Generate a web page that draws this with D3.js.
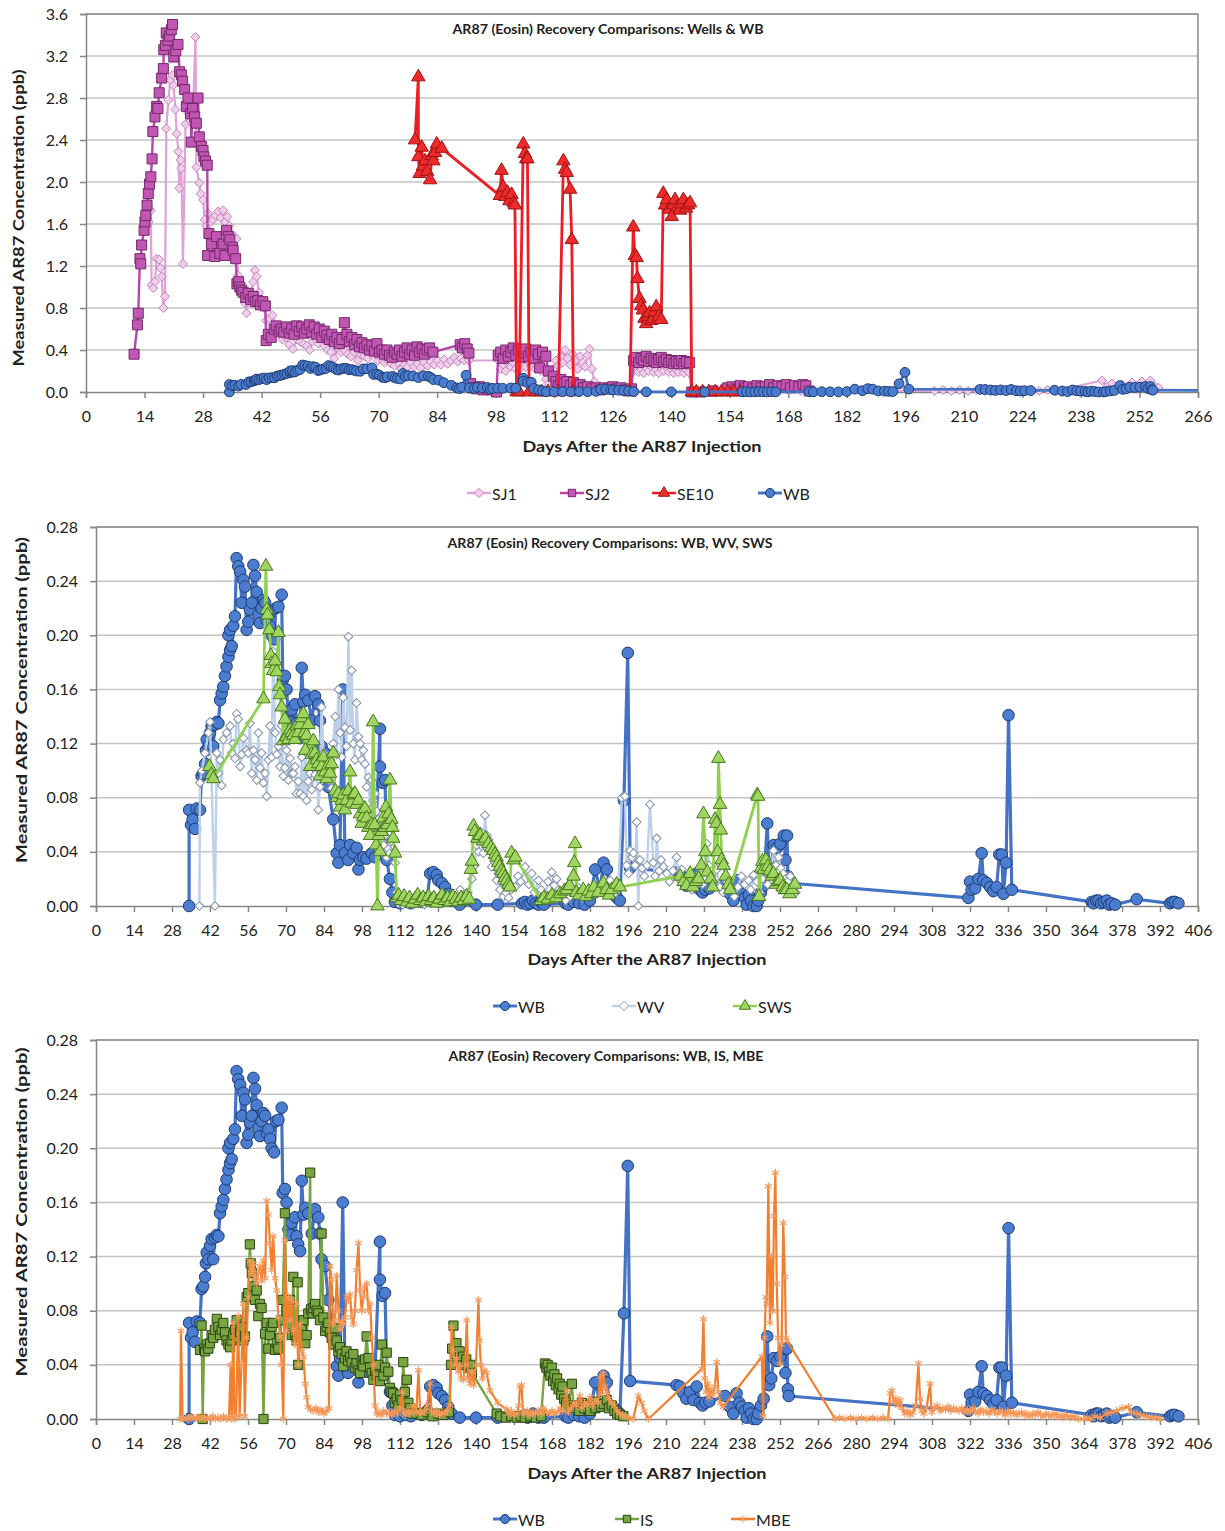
<!DOCTYPE html>
<html><head><meta charset="utf-8">
<script src="https://cdn.jsdelivr.net/npm/d3@7"></script>
<style>
body{margin:0;background:#fff}
text{font-family:Lato,'Open Sans',sans-serif;fill:#222}
</style>
</head><body>
<svg id="c" width="1225" height="1531"></svg>
<script>
// ---------------- DATA ----------------
const xTicksP1 = [0,14,28,42,56,70,84,98,112,126,140,154,168,182,196,210,224,238,252,266];
const xTicksP23 = [0,14,28,42,56,70,84,98,112,126,140,154,168,182,196,210,224,238,252,266,280,294,308,322,336,350,364,378,392,406];
const yTicksP1 = [0,0.4,0.8,1.2,1.6,2.0,2.4,2.8,3.2,3.6];
const yTicksP23 = [0,0.04,0.08,0.12,0.16,0.20,0.24,0.28];

const titles = [
  "AR87 (Eosin) Recovery Comparisons: Wells & WB",
  "AR87 (Eosin) Recovery Comparisons: WB, WV, SWS",
  "AR87 (Eosin) Recovery Comparisons: WB, IS, MBE"
];
const xTitle = "Days After the AR87 Injection";
const yTitle = "Measured AR87 Concentration (ppb)";

const SJ1 = [[15.0,1.62],[15.5,1.73],[15.7,1.02],[16.1,0.99],[16.5,1.05],[16.9,1.27],[17.5,1.26],[17.8,1.18],[18.1,1.10],[18.5,0.80],[18.9,0.91],[19.2,2.51],[19.7,2.78],[20.2,2.97],[20.7,3.02],[20.9,2.92],[21.4,2.69],[21.7,2.46],[22.1,2.29],[22.3,1.94],[22.6,2.21],[22.8,2.13],[23.2,1.22],[23.8,2.55],[24.4,2.66],[25.0,2.58],[25.6,2.70],[26.2,3.38],[26.4,2.14],[27.1,1.99],[27.4,1.89],[28.0,1.83],[28.4,1.64],[28.8,1.58],[29.2,1.70],[29.8,1.62],[30.4,1.64],[31.0,1.68],[31.6,1.72],[32.2,1.66],[32.8,1.73],[33.3,1.62],[33.8,1.67],[34.3,1.58],[34.8,1.51],[35.4,1.48],[36.0,1.46],[36.4,1.11],[36.9,1.02],[37.6,0.92],[38.0,0.85],[38.4,0.75],[39.0,0.88],[39.6,0.95],[40.0,1.05],[40.4,1.16],[40.8,1.10],[41.4,0.95],[42.0,0.88],[42.6,0.80],[43.1,0.68],[43.8,0.70],[44.6,0.73],[45.4,0.62],[46.2,0.55],[47.0,0.50],[47.8,0.52],[48.6,0.45],[49.5,0.41],[50.4,0.50],[51.2,0.48],[52.0,0.46],[52.8,0.44],[53.5,0.40],[54.2,0.48],[55.0,0.50],[55.6,0.46],[56.3,0.52],[57.0,0.44],[57.8,0.40],[58.6,0.38],[59.4,0.32],[60.2,0.42],[61.0,0.38],[61.8,0.40],[62.6,0.36],[63.4,0.34],[64.2,0.38],[65.0,0.30],[65.8,0.36],[66.6,0.34],[67.4,0.32],[68.2,0.36],[69.0,0.37],[69.8,0.30],[70.6,0.32],[71.4,0.28],[72.2,0.30],[73.0,0.27],[73.8,0.25],[74.6,0.28],[75.4,0.22],[76.2,0.26],[76.9,0.24],[77.7,0.28],[78.5,0.24],[79.3,0.27],[80.1,0.23],[80.9,0.28],[81.7,0.25],[82.5,0.29],[83.3,0.26],[84.1,0.30],[84.9,0.26],[85.7,0.31],[86.5,0.27],[87.3,0.30],[88.1,0.33],[88.9,0.29],[89.7,0.32],[90.5,0.30],[91.6,0.30],[98.6,0.30],[99.2,0.22],[99.8,0.26],[100.4,0.20],[101.0,0.27],[101.6,0.24],[102.2,0.28],[102.8,0.22],[103.4,0.26],[104.0,0.23],[104.6,0.29],[105.2,0.24],[105.8,0.30],[106.4,0.25],[107.0,0.28],[107.6,0.22],[108.2,0.26],[108.8,0.20],[109.4,0.24],[110.0,0.12],[110.6,0.08],[111.2,0.18],[111.8,0.22],[112.4,0.30],[113.0,0.25],[113.6,0.34],[114.0,0.28],[114.6,0.40],[115.2,0.32],[115.8,0.26],[116.4,0.36],[117.0,0.30],[117.6,0.22],[118.2,0.34],[118.8,0.28],[119.4,0.24],[120.0,0.35],[120.4,0.41],[121.0,0.22],[121.6,0.10],[122.5,0.04],[124,0.02],[126,0.01],[128,0.02],[130,0.02],[131.0,0.20],[131.6,0.24],[132.2,0.19],[132.8,0.22],[133.4,0.18],[134.0,0.23],[134.6,0.20],[135.2,0.24],[135.8,0.19],[136.4,0.22],[137.0,0.18],[137.6,0.23],[138.2,0.20],[138.8,0.24],[139.4,0.19],[140.0,0.22],[140.6,0.18],[141.2,0.21],[141.8,0.19],[142.4,0.23],[143.0,0.18],[143.6,0.21],[144.2,0.19],[144.8,0.02],[147,0.01],[150,0.02],[153,0.01],[156,0.02],[159,0.01],[162,0.02],[165,0.01],[168,0.02],[171,0.01],[174,0.01],[203,0.01],[205,0.02],[207,0.01],[209,0.02],[211,0.01],[213,0.02],[215,0.01],[224,0.01],[226,0.02],[228,0.01],[230,0.02],[232,0.01],[243.0,0.11],[244.2,0.05],[245.4,0.08],[246.6,0.04],[247.8,0.07],[249.0,0.05],[250.2,0.09],[251.4,0.06],[252.6,0.10],[253.6,0.07],[254.6,0.11],[255.6,0.06],[256.6,0.04]];

const SJ2 = [[11.5,0.36],[12.3,0.64],[12.5,0.75],[12.9,1.27],[13.1,1.22],[13.3,1.40],[13.9,1.54],[14.1,1.62],[14.3,1.68],[14.6,1.78],[14.9,1.89],[15.2,1.98],[15.5,2.05],[15.8,2.22],[16.0,2.48],[16.5,2.62],[16.9,2.72],[17.2,2.70],[17.5,2.85],[18.1,2.99],[18.5,3.08],[18.6,3.26],[19.0,3.30],[19.2,3.42],[19.6,3.35],[20.0,3.39],[20.4,3.45],[20.7,3.50],[21.0,3.19],[21.5,3.25],[22.0,3.31],[22.4,3.05],[22.8,3.02],[23.1,2.96],[23.6,2.88],[24.0,2.72],[24.4,2.80],[25.0,2.65],[25.2,2.38],[25.5,2.70],[26.0,2.62],[26.4,2.56],[26.8,2.80],[27.1,2.43],[27.6,2.34],[28.0,2.30],[28.2,2.24],[28.6,2.20],[29.0,2.16],[29.1,1.30],[29.4,1.51],[30.0,1.41],[30.8,1.29],[31.2,1.48],[32.0,1.32],[32.8,1.41],[33.2,1.30],[33.6,1.54],[34.0,1.48],[34.4,1.45],[35.0,1.38],[35.2,1.35],[35.8,1.27],[36.1,1.03],[36.5,1.05],[36.8,1.00],[37.2,0.97],[37.6,0.95],[38.2,0.90],[38.8,0.94],[39.4,0.88],[40.0,0.91],[40.5,0.86],[41.1,0.87],[41.7,0.83],[42.3,0.86],[42.9,0.82],[43.1,0.49],[43.6,0.55],[44.3,0.52],[45.0,0.60],[45.5,0.63],[46.2,0.58],[46.7,0.60],[47.3,0.57],[48.0,0.62],[48.6,0.56],[49.2,0.60],[49.8,0.55],[50.4,0.63],[51.0,0.58],[51.6,0.62],[52.2,0.56],[52.8,0.60],[53.4,0.64],[54.0,0.57],[54.6,0.62],[55.2,0.55],[55.8,0.60],[56.4,0.52],[57.0,0.58],[57.6,0.54],[58.2,0.50],[58.8,0.55],[59.4,0.48],[60.0,0.52],[60.6,0.46],[61.2,0.50],[61.8,0.66],[62.4,0.55],[63.0,0.48],[63.6,0.52],[64.2,0.45],[64.8,0.50],[65.4,0.43],[66.0,0.47],[66.6,0.42],[67.2,0.45],[67.8,0.40],[68.4,0.44],[69.0,0.39],[69.6,0.46],[70.2,0.38],[70.8,0.40],[71.4,0.36],[72.0,0.40],[72.6,0.35],[73.2,0.33],[73.8,0.38],[74.4,0.36],[75.0,0.40],[75.6,0.34],[76.2,0.38],[76.8,0.42],[77.4,0.36],[78.0,0.40],[78.6,0.35],[79.2,0.43],[79.8,0.38],[80.4,0.41],[81.0,0.36],[81.6,0.40],[82.2,0.42],[83.0,0.38],[89.5,0.45],[90.0,0.42],[90.6,0.46],[91.2,0.41],[91.6,0.37],[92.0,0.08],[92.6,0.04],[93.4,0.03],[94.2,0.05],[95.0,0.02],[96.0,0.03],[97.0,0.02],[98.2,0.0],[98.6,0.35],[99.2,0.38],[99.8,0.32],[100.4,0.40],[101.0,0.34],[101.6,0.38],[102.2,0.42],[102.8,0.35],[103.4,0.40],[104.0,0.33],[104.6,0.37],[105.2,0.41],[105.8,0.34],[106.4,0.38],[107.0,0.32],[107.6,0.40],[108.2,0.36],[108.5,0.23],[109.2,0.38],[110.0,0.34],[110.6,0.20],[111.8,0.15],[112.4,0.10],[113.0,0.06],[113.6,0.12],[114.2,0.08],[115.0,0.10],[115.8,0.06],[116.6,0.09],[117.4,0.05],[118.2,0.07],[119.0,0.04],[120.0,0.05],[121.0,0.03],[122.0,0.04],[123.0,0.02],[124.0,0.04],[125.0,0.03],[126.0,0.05],[127.0,0.03],[128.0,0.04],[129.0,0.02],[130.5,0.03],[131.0,0.30],[131.6,0.33],[132.2,0.28],[132.8,0.32],[133.4,0.30],[134.0,0.34],[134.6,0.29],[135.2,0.32],[135.8,0.30],[136.4,0.28],[137.0,0.31],[137.6,0.33],[138.2,0.29],[138.8,0.31],[139.4,0.28],[140.0,0.30],[140.6,0.27],[141.2,0.29],[141.8,0.27],[142.4,0.30],[143.0,0.27],[143.6,0.29],[144.4,0.28],[144.9,0.0],[147,0.0],[150,0.01],[153.5,0.04],[154.5,0.05],[155.5,0.03],[156.5,0.06],[157.5,0.04],[158.5,0.05],[159.5,0.03],[160.5,0.06],[161.5,0.04],[162.5,0.05],[163.5,0.07],[164.5,0.04],[165.5,0.06],[166.5,0.05],[167.5,0.07],[168.5,0.04],[169.5,0.06],[170.5,0.05],[171.5,0.07],[172.2,0.06],[173,0.01]];

const SE10 = [[78.7,2.40],[79.5,3.00],[79.5,2.24],[79.8,2.08],[80.3,2.33],[80.6,2.15],[81.1,2.20],[81.6,2.10],[82.3,2.02],[82.7,2.25],[83.1,2.20],[83.5,2.28],[83.9,2.36],[85.1,2.32],[99.0,1.87],[99.4,2.11],[99.8,1.95],[100.3,1.86],[100.8,1.90],[101.3,1.82],[101.8,1.88],[102.3,1.80],[102.6,1.78],[103.0,0.0],[103.6,0.0],[104.6,2.36],[105.0,2.27],[105.3,2.22],[105.6,2.22],[106.0,0.0],[107.5,0.0],[109,0.0],[110.5,0.0],[113.0,0.0],[114.2,2.20],[114.6,2.12],[115.0,2.09],[115.8,1.93],[116.2,1.45],[116.6,0.0],[130.1,0.0],[130.9,1.57],[131.3,1.30],[131.7,1.28],[131.9,1.08],[132.4,0.89],[132.8,0.82],[133.2,0.78],[133.6,0.70],[134.0,0.65],[134.4,0.72],[134.8,0.75],[135.2,0.68],[135.6,0.70],[136.0,0.76],[136.4,0.81],[137.0,0.72],[137.6,0.69],[138.1,1.89],[138.5,1.78],[138.9,1.83],[139.5,1.74],[140.1,1.67],[140.5,1.78],[140.9,1.83],[141.5,1.76],[142.1,1.73],[142.5,1.79],[142.9,1.83],[143.5,1.75],[144.0,1.78],[144.5,1.80],[144.9,0.0],[146,0.0],[147.5,0.0],[149,0.0],[150.5,0.0],[152,0.0],[153.5,0.0],[155,0.0],[156.5,0.0]];

const WB = [[34.3,0],[34.3,0.071],[35.0,0.060],[35.6,0.064],[36.5,0.057],[37.1,0.072],[38.3,0.071],[38.9,0.096],[39.5,0.098],[40.2,0.105],[40.5,0.115],[40.8,0.123],[41.4,0.118],[42.0,0.128],[42.6,0.133],[43.2,0.118],[43.8,0.134],[44.5,0.136],[45.1,0.135],[45.7,0.152],[46.3,0.157],[46.9,0.162],[47.5,0.170],[48.1,0.177],[48.8,0.184],[48.8,0.200],[49.4,0.189],[49.4,0.204],[50.0,0.192],[50.6,0.207],[51.2,0.214],[51.8,0.257],[52.4,0.251],[53.1,0.247],[53.7,0.224],[54.3,0.241],[54.9,0.236],[55.5,0.204],[56.1,0.210],[56.7,0.219],[57.4,0.224],[58.0,0.252],[58.6,0.244],[59.2,0.232],[59.8,0.215],[60.4,0.209],[61.0,0.220],[61.7,0.226],[62.3,0.224],[62.9,0.211],[63.5,0.214],[64.1,0.207],[64.7,0.200],[65.6,0.197],[66.3,0.220],[67.2,0.221],[68.4,0.230],[68.8,0.167],[69.6,0.170],[70.2,0.160],[70.9,0.140],[71.5,0.136],[72.1,0.145],[73.3,0.149],[73.9,0.135],[74.5,0.129],[75.2,0.124],[75.8,0.176],[76.4,0.151],[77.1,0.156],[78.2,0.152],[79.5,0.137],[80.7,0.155],[81.9,0.149],[82.5,0.137],[83.1,0.118],[84.4,0.113],[85.6,0.088],[87.4,0.064],[88.7,0.039],[89.3,0.032],[89.9,0.045],[90.9,0.160],[91.7,0.039],[92.9,0.034],[93.6,0.045],[94.8,0.039],[96.0,0.043],[96.7,0.027],[97.3,0.034],[98.5,0.036],[99.7,0.035],[101.6,0.039],[102.8,0.036],[104.6,0.131],[104.6,0.103],[105.6,0.091],[106.5,0.093],[107.1,0.034],[108.3,0.020],[109.2,0.010],[110.1,0.003],[112,0.002],[114,0.003],[116,0.002],[118,0.004],[120,0.003],[122,0.006],[123.1,0.024],[124.3,0.025],[125.5,0.023],[126.1,0.019],[127.4,0.017],[128.6,0.014],[129.8,0.009],[131.0,0.004],[134,0.001],[140,0.001],[148,0.001],[157,0.002],[158,0.003],[159,0.001],[160,0.002],[161,0.004],[162,0.002],[163,0.001],[164,0.003],[165,0.001],[173,0.002],[174,0.001],[176,0.003],[178,0.002],[180,0.001],[182,0.004],[183.9,0.027],[185.7,0.012],[187.0,0.032],[188.2,0.027],[189.5,0.010],[191,0.008],[192,0.006],[193,0.004],[194.5,0.078],[195.9,0.187],[196.8,0.028],[213.9,0.025],[215.1,0.024],[216.4,0.019],[217.5,0.015],[218.8,0.020],[220.1,0.014],[221.3,0.024],[222.5,0.012],[223.5,0.010],[224.5,0.012],[226,0.013],[231.7,0.017],[233.5,0.009],[234.8,0.004],[236.0,0.019],[237.0,0.012],[237.9,0.009],[239.0,0.006],[239.7,0.001],[240.5,0.008],[241.3,0.004],[242.2,0.0],[243.4,0.0],[244.0,0.004],[245,0.010],[246,0.015],[247.3,0.061],[248.0,0.025],[248.8,0.030],[249.7,0.045],[250.9,0.043],[252.1,0.046],[253.4,0.052],[254.0,0.034],[254.6,0.052],[254.9,0.022],[255.2,0.017],[321.4,0.006],[322.0,0.018],[322.6,0.012],[323.9,0.013],[325.1,0.020],[326.3,0.039],[326.9,0.019],[328.2,0.017],[329.4,0.014],[330.6,0.011],[331.8,0.014],[332.8,0.038],[333.7,0.038],[334.3,0.009],[335.3,0.032],[336.2,0.141],[337.4,0.012],[366.8,0.003],[367.5,0.002],[368.5,0.004],[369.3,0.004],[370.3,0.002],[371.3,0.003],[372.4,0.004],[373.3,0.001],[374.2,0.002],[375.5,0.001],[383.4,0.005],[395.7,0.002],[396.6,0.003],[397.5,0.003],[398.8,0.002]];

const WV = [[38.1,0],[38.3,0.091],[39.0,0.100],[40.2,0.113],[41.4,0.128],[42.0,0.136],[43.8,0],[44.5,0.113],[45.1,0.098],[45.7,0.108],[46.3,0.089],[46.9,0.123],[48.1,0.128],[49.4,0.133],[50.0,0.113],[50.6,0.120],[51.2,0.109],[51.8,0.142],[52.4,0.138],[53.1,0.103],[53.7,0.112],[54.3,0.124],[55.5,0.115],[56.1,0.113],[56.7,0.135],[57.4,0.098],[58.0,0.115],[58.6,0.108],[59.2,0.093],[59.8,0.128],[60.4,0.102],[61.0,0.113],[61.7,0.091],[62.3,0.098],[62.9,0.081],[63.5,0.108],[64.1,0.133],[64.7,0.110],[65.3,0.188],[66.0,0.128],[66.6,0.112],[67.2,0.118],[67.8,0.103],[68.4,0.133],[69.0,0.096],[69.6,0.102],[70.2,0.115],[70.9,0.093],[71.5,0.109],[72.1,0.098],[72.7,0.098],[73.3,0.103],[73.9,0.083],[74.5,0.092],[75.2,0.083],[75.8,0.110],[76.4,0.081],[77.1,0.115],[77.6,0.078],[78.2,0.092],[78.9,0.098],[79.5,0.086],[80.7,0.097],[81.3,0.110],[81.9,0.071],[82.5,0.088],[83.1,0.147],[83.8,0.113],[84.4,0.100],[85.0,0.095],[85.6,0.093],[86.2,0.100],[86.8,0.087],[87.4,0.120],[88.1,0.140],[88.7,0.112],[89.3,0.160],[89.9,0.128],[90.5,0.110],[91.1,0.154],[91.7,0.132],[92.3,0.118],[93.0,0.199],[93.6,0.130],[94.2,0.174],[94.8,0.120],[95.4,0.108],[96.0,0.150],[96.7,0.125],[97.3,0.120],[97.9,0.108],[98.5,0.115],[99.1,0.105],[99.7,0.088],[100.4,0.095],[101.0,0.071],[101.6,0.093],[102.2,0.078],[102.8,0.083],[103.4,0.070],[104.0,0.064],[104.6,0.058],[105.3,0.049],[106.0,0.045],[106.5,0.052],[107.1,0.036],[107.7,0.042],[108.3,0.039],[108.9,0.048],[109.5,0.059],[110.2,0.032],[110.8,0.010],[111.4,0.002],[113,0.001],[115,0.002],[117,0.001],[119,0.002],[121,0.001],[124,0.003],[127,0.002],[130,0.004],[132,0.006],[134.2,0.012],[135.5,0.008],[137,0.010],[138.5,0.020],[139.5,0.030],[140.2,0.045],[141.0,0.040],[141.5,0.055],[142.1,0.054],[142.7,0.039],[143.3,0.067],[144.0,0.052],[144.6,0.049],[145.2,0.044],[145.8,0.029],[146.4,0.038],[147.0,0.032],[147.6,0.019],[148.2,0.024],[148.8,0.012],[149.5,0.018],[150.1,0.007],[151,0.010],[152,0.006],[153,0.012],[154.4,0.014],[155.5,0.022],[156.5,0.018],[158.1,0.029],[159.5,0.016],[160.5,0.024],[161.5,0.010],[163.0,0.019],[164,0.012],[165.5,0.008],[166.5,0.018],[167.9,0.025],[168.8,0.015],[169.7,0.020],[170.5,0.012],[171.5,0.010],[173,0.004],[174.7,0.007],[176,0.010],[177.5,0.014],[179,0.006],[181,0.008],[183,0.012],[185,0.010],[187,0.014],[189.4,0.019],[190.5,0.012],[191.5,0.010],[192.5,0.016],[193.7,0.080],[194.9,0.081],[195.5,0.030],[196.2,0.024],[196.8,0.041],[197.5,0.036],[198.0,0.039],[198.6,0.030],[199.2,0.062],[199.8,0],[200.4,0.034],[201.2,0.028],[202,0.022],[203,0.030],[204.1,0.075],[205.3,0.032],[206,0.022],[206.6,0.050],[207.5,0.026],[208.2,0.034],[209.1,0.029],[210.3,0.024],[211.3,0.018],[212.5,0.026],[213.9,0.036],[214.8,0.020],[215.8,0.027],[217,0.016],[218,0.021],[219.5,0.012],[220.7,0.014],[221.6,0.020],[222.5,0.024],[223.5,0.016],[225.0,0.046],[225.8,0.030],[226.8,0.022],[227.5,0.018],[228.7,0.027],[229.8,0.014],[231,0.010],[232.5,0.018],[233.5,0.012],[235.2,0.007],[236.5,0.014],[237.8,0.022],[239,0.016],[240.4,0.019],[241.2,0.012],[242.3,0.023],[243.5,0.018],[244.5,0.010],[245.5,0.020],[246.5,0.028],[247.5,0.016],[248.5,0.022],[249.6,0.041],[250.5,0.030],[251.5,0.036],[252.3,0.028],[253.2,0.024],[254.0,0.020],[254.8,0.018],[255.8,0.022],[256.9,0.014],[257.8,0.010]];

const SWS = [[41.8,0.103],[42.5,0.097],[43.2,0.094],[61.7,0.153],[62.6,0.251],[62.9,0.219],[63.2,0.215],[63.9,0.204],[64.4,0.185],[64.7,0.179],[65.3,0.174],[66.0,0.181],[66.6,0.173],[67.2,0.202],[67.5,0.162],[67.8,0.156],[68.4,0.147],[69.0,0.122],[69.6,0.138],[70.2,0.125],[70.9,0.123],[71.5,0.130],[72.1,0.128],[72.7,0.126],[73.3,0.123],[73.9,0.133],[74.5,0.128],[75.2,0.134],[75.8,0.139],[76.4,0.142],[76.8,0.128],[77.1,0.115],[77.6,0.126],[78.2,0.134],[78.9,0.103],[79.5,0.112],[80.1,0.122],[80.7,0.113],[81.3,0.108],[81.9,0.105],[82.5,0.096],[83.1,0.103],[83.8,0.110],[84.4,0.099],[85.0,0.094],[85.6,0.104],[86.2,0.098],[86.8,0.105],[87.4,0.113],[88.1,0.085],[88.7,0.080],[89.3,0.083],[89.9,0.073],[90.5,0.078],[91.1,0.082],[91.7,0.071],[92.3,0.078],[92.9,0.085],[93.6,0.099],[94.2,0.076],[94.8,0.082],[95.4,0.083],[96.0,0.075],[96.7,0.078],[97.3,0.068],[97.9,0.061],[98.5,0.066],[99.1,0.072],[99.7,0.065],[100.4,0.058],[101.0,0.052],[101.6,0.060],[102.1,0.136],[102.7,0.060],[103.2,0.045],[103.7,0],[104.2,0.052],[104.6,0.040],[105.2,0.055],[105.8,0.065],[106.3,0.058],[106.8,0.073],[107.4,0.060],[107.8,0.068],[108.3,0.093],[108.8,0.064],[109.2,0.058],[109.5,0.050],[110.2,0.039],[110.8,0.006],[111.5,0.008],[112.5,0.004],[113.5,0.007],[114.5,0.003],[115.5,0.006],[116.5,0.002],[117.5,0.005],[118.5,0.008],[119.5,0.004],[120.5,0.006],[121.5,0.003],[122.5,0.007],[123.5,0.004],[124.5,0.006],[125.5,0.002],[126.5,0.005],[127.5,0.008],[128.5,0.004],[129.5,0.006],[130.5,0.003],[131.5,0.007],[132.5,0.005],[133.5,0.003],[134.5,0.006],[135.5,0.004],[136.5,0.007],[137.5,0.005],[138.1,0.027],[138.5,0.033],[139.1,0.059],[139.6,0.055],[140.5,0.050],[141.5,0.052],[142.5,0.048],[143.5,0.050],[144.6,0.046],[145.5,0.043],[146.4,0.041],[147.0,0.038],[147.6,0.036],[148.2,0.032],[148.8,0.029],[149.5,0.026],[150.1,0.024],[150.7,0.021],[151.3,0.019],[152.0,0.016],[152.5,0.014],[153.1,0.039],[153.8,0.034],[154.5,0.036],[164.0,0.004],[165,0.006],[166.5,0.005],[168,0.008],[169.5,0.006],[171,0.009],[172.5,0.011],[173.4,0.012],[174.5,0.015],[175.9,0.022],[176.2,0.032],[176.5,0.046],[177,0.010],[178,0.008],[179.5,0.012],[180.5,0.007],[181.5,0.011],[182.5,0.009],[183.5,0.014],[185,0.010],[186.9,0.017],[188,0.012],[189,0.008],[190,0.012],[191.8,0.016],[193,0.014],[215.2,0.022],[216.5,0.018],[217.5,0.015],[218.9,0.024],[220,0.014],[221,0.018],[222,0.020],[223.0,0.030],[223.8,0.068],[224.5,0.040],[225.2,0.025],[226.5,0.020],[227.2,0.014],[228.1,0.064],[228.6,0.061],[229.0,0.040],[229.3,0.109],[229.9,0.075],[230.2,0.056],[230.5,0.034],[231.2,0.030],[232,0.022],[233.0,0.016],[233.6,0.012],[243.6,0.082],[243.9,0.081],[244.3,0.007],[245.0,0.028],[245.5,0.033],[246.0,0.027],[246.8,0.034],[247.5,0.029],[248.2,0.026],[249.0,0.022],[249.6,0.024],[250.5,0.016],[251.3,0.018],[252.1,0.019],[253.0,0.014],[253.8,0.012],[254.5,0.012],[255.5,0.009],[256.5,0.012],[257.5,0.016]];

const IS = [[38.3,0.051],[38.9,0.069],[39.3,0],[39.8,0.052],[40.2,0.050],[40.8,0.055],[41.4,0.052],[42.0,0.056],[42.6,0.062],[43.2,0.060],[43.8,0.066],[44.5,0.074],[45.1,0.068],[45.7,0.062],[46.3,0.066],[46.9,0.071],[47.5,0.064],[48.1,0.058],[48.8,0.055],[49.4,0.053],[50.0,0.058],[50.6,0.062],[51.2,0.066],[51.8,0.073],[52.4,0.060],[53.1,0.064],[53.7,0.068],[54.3,0.058],[54.9,0.061],[55.5,0.090],[56.1,0.093],[56.7,0.129],[57.0,0.115],[57.4,0.108],[58.0,0.098],[58.6,0.088],[59.2,0.095],[59.8,0.076],[60.4,0.085],[61.0,0.082],[61.7,0],[62.3,0.063],[62.9,0.071],[63.5,0.052],[64.1,0.062],[64.7,0.068],[65.3,0.071],[66.0,0.051],[66.6,0.056],[67.2,0.052],[67.8,0.060],[68.4,0.073],[68.8,0.088],[69.6,0.152],[70.2,0.080],[70.9,0.070],[71.5,0.088],[72.1,0.062],[72.7,0.105],[73.3,0.062],[73.9,0.058],[74.3,0.101],[74.5,0.040],[75.2,0.061],[75.8,0.066],[76.4,0.073],[77.1,0.056],[77.6,0.062],[78.2,0.078],[78.9,0.182],[79.2,0.081],[79.8,0.078],[80.1,0.082],[80.7,0.085],[81.3,0.080],[81.9,0.078],[82.5,0.073],[83.1,0.137],[83.8,0.075],[84.4,0.065],[85.0,0.068],[85.6,0.071],[86.2,0.064],[86.8,0.060],[87.4,0.055],[88.1,0.067],[88.7,0.058],[89.3,0.050],[89.9,0.053],[90.5,0.048],[91.1,0.039],[91.7,0.045],[92.3,0.050],[92.9,0.043],[93.6,0.046],[94.2,0.042],[94.8,0.048],[95.4,0.038],[96.0,0.041],[96.7,0.036],[97.3,0.034],[97.9,0.040],[98.5,0.039],[99.1,0.044],[99.7,0.061],[100.4,0.045],[101.0,0.038],[101.6,0.034],[102.2,0.029],[102.8,0.036],[103.4,0.032],[104.0,0.040],[104.6,0.028],[105.3,0.055],[105.9,0.032],[106.5,0.038],[107.1,0.049],[107.7,0.035],[108.3,0.023],[108.9,0.020],[109.5,0.019],[110.1,0.012],[110.8,0.015],[111.4,0.010],[112.0,0.018],[112.6,0.014],[113.2,0.042],[113.8,0.020],[114.5,0.029],[115.1,0.012],[115.7,0.008],[116.3,0.004],[118,0.004],[120,0.003],[122,0.005],[124,0.002],[126,0.004],[128,0.003],[130,0.005],[130.8,0.040],[131.2,0.052],[131.7,0.069],[132.2,0.048],[132.8,0.056],[133.4,0.044],[134.0,0.050],[134.6,0.042],[135.2,0.046],[135.8,0.040],[136.4,0.044],[137.0,0.038],[137.9,0.040],[138.5,0.034],[147.6,0.004],[149,0.002],[151,0.001],[153,0.002],[155,0.001],[156.5,0.002],[158,0.001],[160,0.002],[162,0.001],[164,0.002],[165.4,0.041],[165.9,0.038],[166.4,0.040],[166.9,0.035],[167.4,0.032],[167.9,0.038],[168.4,0.028],[168.9,0.033],[169.4,0.025],[169.9,0.030],[170.4,0.022],[170.9,0.026],[171.4,0.018],[171.9,0.024],[172.5,0.015],[173.2,0.012],[174,0.010],[175.3,0.026],[176,0.008],[177,0.010],[178,0.006],[179,0.012],[180,0.008],[181,0.010],[182,0.006],[183,0.012],[184,0.008],[185,0.013],[186,0.009],[187,0.011],[188.2,0.014],[189,0.008],[190,0.010],[191,0.006],[192,0.004],[193,0.003],[194.3,0.002]];

const MBE = [[31.0,0],[31.3,0.065],[31.9,0],[33,0.001],[34,0],[35,0.002],[36,0],[37,0.001],[38,0],[39,0.002],[40,0],[41,0.001],[42,0],[43,0.002],[44,0],[45,0.001],[46,0],[47,0.002],[48,0],[49,0.001],[49.6,0.040],[50.0,0],[50.6,0.071],[51.0,0],[51.6,0.002],[52.4,0.076],[52.9,0.002],[53.6,0.040],[54.3,0.085],[54.8,0.002],[55.5,0.060],[56.1,0.090],[56.7,0.117],[57.2,0.108],[57.6,0.112],[58.0,0.115],[58.6,0.105],[59.2,0.100],[59.8,0.108],[60.4,0.113],[61.0,0.102],[61.7,0.117],[62.3,0.104],[62.9,0.161],[63.5,0.151],[64.1,0.130],[64.7,0.110],[65.3,0.135],[66.0,0.104],[66.6,0.095],[67.2,0.075],[67.8,0.061],[68.4,0.040],[69.0,0],[69.6,0.132],[70.2,0.065],[70.9,0.090],[71.5,0.073],[72.1,0.088],[72.7,0.066],[73.3,0.055],[73.9,0.085],[74.5,0.040],[75.2,0.070],[75.8,0.050],[76.4,0.046],[77.1,0.026],[77.6,0.016],[78.2,0.009],[79,0.007],[80,0.006],[81,0.008],[82,0.005],[83,0.007],[84,0.004],[85,0.006],[85.8,0.008],[86.2,0.113],[86.8,0.103],[87.4,0.070],[88.1,0.073],[88.7,0.106],[89.3,0.080],[89.9,0.066],[90.5,0.072],[91.1,0.070],[91.7,0.075],[92.4,0.090],[93.0,0.088],[93.6,0.092],[94.2,0.075],[94.8,0.070],[95.4,0.080],[96.0,0.110],[96.7,0.130],[97.3,0.095],[97.9,0.080],[98.5,0.090],[99.1,0.098],[99.7,0.100],[100.4,0.080],[101.0,0.085],[101.6,0.060],[102.2,0.040],[102.8,0.010],[103.4,0.004],[104,0.005],[105,0.003],[106,0.006],[107,0.004],[108,0.005],[109,0.003],[110,0.006],[111,0.004],[112,0.008],[112.8,0.020],[113.3,0.005],[114,0.003],[115,0.006],[116,0.004],[117,0.010],[118.0,0.005],[118.8,0.036],[119.4,0.005],[120,0.004],[121,0.006],[122,0.010],[123.1,0.026],[123.6,0.006],[124.5,0.004],[125.5,0.006],[126.5,0.003],[127.5,0.005],[128.5,0.004],[129.5,0.006],[130.4,0.010],[131.0,0.068],[131.6,0.051],[132.2,0.040],[132.8,0.045],[133.4,0.035],[134.0,0.040],[134.6,0.030],[135.3,0.029],[136.0,0.040],[136.6,0.073],[137.2,0.030],[137.9,0.026],[138.5,0.035],[139.2,0.025],[140.0,0.040],[140.9,0.088],[141.3,0.058],[141.8,0.040],[142.4,0.030],[143.0,0.036],[143.9,0.034],[145.2,0.021],[148.0,0.012],[151.3,0.007],[152,0.004],[153,0.006],[154,0.003],[155.0,0.004],[155.8,0.010],[156.2,0.024],[156.8,0.025],[157.3,0.005],[158,0.004],[159,0.006],[160,0.003],[161,0.005],[162,0.004],[163,0.006],[164,0.004],[164.8,0.008],[166,0.005],[167,0.004],[168,0.006],[169,0.004],[170,0.005],[171,0.008],[172,0.006],[173.4,0.021],[174,0.005],[175,0.008],[176,0.012],[177,0.010],[178.3,0.017],[179,0.008],[180,0.012],[181,0.010],[182,0.016],[183,0.010],[184,0.014],[185.0,0.012],[185.7,0.031],[186.2,0.018],[186.9,0.034],[187.5,0.024],[188.2,0.020],[189,0.015],[190,0.012],[191,0.010],[192,0.006],[193,0.004],[194,0.003],[195,0.002],[196,0.001],[197.9,0],[199.8,0.017],[201.0,0.012],[202,0.006],[203.5,0],[223.2,0.037],[223.8,0.074],[224.3,0.030],[224.8,0.020],[225.3,0.026],[225.8,0.016],[226.5,0.022],[227.2,0.018],[228.0,0.024],[228.7,0.042],[229.3,0.020],[230.0,0.012],[231.1,0.009],[245.3,0.046],[245.8,0.002],[246.3,0.060],[246.8,0.090],[247.1,0.085],[247.7,0.172],[248.3,0.071],[248.8,0.120],[249.3,0.080],[249.8,0.150],[250.3,0.182],[250.8,0.100],[251.3,0.060],[252.0,0.041],[252.6,0.055],[253.2,0.145],[253.8,0.105],[254.2,0.060],[254.6,0.058],[272.3,0],[274,0.001],[276,0],[278,0.001],[280,0],[282,0.001],[284,0],[286,0.001],[288,0],[290,0.001],[291.8,0],[292.6,0.019],[293.2,0.021],[294,0.012],[294.7,0.015],[295.5,0.010],[296.2,0.014],[297,0.008],[298,0.004],[299,0.006],[300,0.003],[301,0.005],[302,0.010],[303.0,0.041],[303.6,0.015],[304.2,0.006],[305,0.004],[306,0.008],[307.3,0.026],[307.9,0.005],[309,0.008],[310,0.010],[311,0.006],[312,0.008],[313,0.007],[314,0.009],[315,0.006],[316,0.008],[317,0.007],[318,0.006],[319,0.008],[320,0.005],[321,0.007],[322,0.005],[323,0.008],[324,0.006],[325,0.004],[326,0.007],[327,0.005],[328,0.006],[329,0.004],[330,0.007],[331,0.005],[332,0.004],[333,0.006],[334,0.005],[335,0.003],[336,0.006],[337,0.004],[338,0.005],[339,0.003],[340,0.004],[341,0.005],[342,0.003],[343,0.004],[344,0.002],[345,0.004],[346,0.003],[347,0.005],[348,0.003],[349,0.002],[350,0.004],[351,0.003],[352,0.002],[353,0.004],[354,0.002],[355,0.003],[356,0.001],[357,0.003],[358,0.002],[359,0.001],[360,0.002],[361,0.001],[362,0],[363.8,0],[365,0.001],[366.5,0],[368,0.002],[370,0.001],[372.4,0.004],[374,0.005],[376,0.006],[378,0.008],[380.4,0.009],[381.5,0.005],[383.5,0.004],[385,0.003],[387,0.002],[389,0.001],[390.5,0.001],[392.0,0]];

// ---------------- RENDERING ----------------
const diamondSym = {draw(ctx,size){const r=Math.sqrt(size)/2*1.25;ctx.moveTo(0,-r);ctx.lineTo(r,0);ctx.lineTo(0,r);ctx.lineTo(-r,0);ctx.closePath();}};
const asteriskSym = {draw(ctx,size){const r=Math.sqrt(size)/2;const a=r*0.866;ctx.moveTo(0,-r);ctx.lineTo(0,r);ctx.moveTo(-a,-r/2);ctx.lineTo(a,r/2);ctx.moveTo(-a,r/2);ctx.lineTo(a,-r/2);}};

const STY = {
  SJ1:{line:'#dea2d8',lw:2.2,sym:diamondSym,size:52,fill:'#f0cdeb',stroke:'#c283bb',sw:1},
  SJ2:{line:'#b646aa',lw:2.4,sym:d3.symbolSquare,size:100,fill:'#c256b4',stroke:'#742868',sw:1},
  SE10:{line:'#ee1c24',lw:2.8,sym:d3.symbolTriangle,size:78,fill:'#ee2a2a',stroke:'#a01414',sw:1},
  WB:{line:'#4472c4',lw:3.2,sym:d3.symbolCircle,size:100,fill:'#4a7dd0',stroke:'#1f3b72',sw:1},
  WV:{line:'#bdd0e9',lw:2.4,sym:diamondSym,size:48,fill:'#ffffff',stroke:'#8a97ad',sw:1.1},
  SWS:{line:'#8fd14f',lw:2.8,sym:d3.symbolTriangle,size:80,fill:'#9fd65f',stroke:'#48761f',sw:1},
  IS:{line:'#77a340',lw:2.4,sym:d3.symbolSquare,size:85,fill:'#78a442',stroke:'#2b4612',sw:1},
  MBE:{line:'#f07f2e',lw:2.2,sym:asteriskSym,size:60,fill:'none',stroke:'#f49a5c',sw:1.2}
};

const panels = [
  {title:titles[0], tx:608, ty:29, tlen:311, tsize:12.5,
   left:86,right:1198,top:14,bottom:392, xMax:266, yMax:3.6, xTicks:xTicksP1, yTicks:yTicksP1, yFmt:d3.format('.1f'),
   xtY:445, ytX:18, ytY:218, ytLen:297, ytSize:15,
   series:[['SJ1',SJ1],['SJ2',SJ2],['SE10',SE10],['WB',WB]], wbSize:75, wbLw:2.8,
   legY:493, leg:[['SJ1',467],['SJ2',560],['SE10',652],['WB',758]]},
  {title:titles[1], tx:610, ty:543, tlen:325, tsize:12.5,
   left:96,right:1198,top:527,bottom:906, xMax:406, yMax:0.28, xTicks:xTicksP23, yTicks:yTicksP23, yFmt:d3.format('.2f'),
   xtY:958, ytX:20, ytY:700, ytLen:326, ytSize:16,
   series:[['WB',WB],['WV',WV],['SWS',SWS]], wbSize:105, wbLw:3.2,
   legY:1006, leg:[['WB',493],['WV',612],['SWS',733]]},
  {title:titles[2], tx:606, ty:1056, tlen:315, tsize:12.5,
   left:96,right:1198,top:1040,bottom:1419, xMax:406, yMax:0.28, xTicks:xTicksP23, yTicks:yTicksP23, yFmt:d3.format('.2f'),
   xtY:1472, ytX:20, ytY:1212, ytLen:329, ytSize:16,
   series:[['WB',WB],['IS',IS],['MBE',MBE]], wbSize:105, wbLw:3.2,
   legY:1519, leg:[['WB',493],['IS',615],['MBE',731]]}
];

const svg = d3.select('#c');

panels.forEach((p,pi)=>{
  const x = d3.scaleLinear().domain([0,p.xMax]).range([p.left,p.right]);
  const y = d3.scaleLinear().domain([0,p.yMax]).range([p.bottom,p.top]);
  const g = svg.append('g');
  const clipId = 'clip'+pi;
  g.append('clipPath').attr('id',clipId).append('rect')
    .attr('x',p.left-10).attr('y',p.top-10).attr('width',p.right-p.left+10).attr('height',p.bottom-p.top+20);

  g.append('g').selectAll('line').data(p.yTicks.filter(d=>d>0)).join('line')
    .attr('x1',p.left).attr('x2',p.right).attr('y1',d=>y(d)).attr('y2',d=>y(d))
    .attr('stroke','#c4c4c4').attr('stroke-width',1.5);
  g.append('path').attr('d',`M${p.left},${p.top}H${p.right}V${p.bottom}`)
    .attr('fill','none').attr('stroke','#8c8c8c').attr('stroke-width',1.5);

  const xa = g.append('g').attr('transform',`translate(0,${p.bottom})`)
    .call(d3.axisBottom(x).tickValues(p.xTicks).tickSize(6).tickPadding(13).tickFormat(d=>d));
  const ya = g.append('g').attr('transform',`translate(${p.left},0)`)
    .call(d3.axisLeft(y).tickValues(p.yTicks).tickSize(6).tickPadding(12).tickFormat(p.yFmt));
  [xa,ya].forEach(a=>{
    a.select('.domain').attr('stroke','#868686').attr('stroke-width',1.5);
    a.selectAll('.tick line').attr('stroke','#868686').attr('stroke-width',1.5);
    a.selectAll('.tick text').attr('font-size',16).attr('fill','#222').style('font-family','Lato,Open Sans,sans-serif');
  });

  const sg = g.append('g').attr('clip-path',`url(#${clipId})`);
  const line = d3.line().x(d=>x(d[0])).y(d=>y(d[1]));
  p.series.forEach(([name,data])=>{
    const s = STY[name];
    const lw = name==='WB'? p.wbLw : s.lw;
    const size = name==='WB'? p.wbSize : s.size;
    sg.append('path').datum(data).attr('d',line).attr('fill','none')
      .attr('stroke',s.line).attr('stroke-width',lw).attr('stroke-linejoin','round');
    const sym = d3.symbol().type(s.sym).size(size);
    sg.append('g').selectAll('path').data(data).join('path')
      .attr('transform',d=>`translate(${x(d[0])},${y(d[1])})`)
      .attr('d',sym).attr('fill',s.fill).attr('stroke',s.stroke).attr('stroke-width',s.sw);
  });

  g.append('text').attr('x',p.tx).attr('y',p.ty).attr('text-anchor','middle').attr('dominant-baseline','central')
    .attr('font-size',p.tsize).attr('font-weight','bold').attr('textLength',p.tlen).attr('lengthAdjust','spacingAndGlyphs').text(p.title);
  g.append('text').attr('x',(p.left+p.right)/2).attr('y',p.xtY).attr('text-anchor','middle').attr('dominant-baseline','central')
    .attr('font-size',16).attr('font-weight','bold').attr('textLength',239).attr('lengthAdjust','spacingAndGlyphs').text(xTitle);
  g.append('text').attr('transform',`translate(${p.ytX},${p.ytY}) rotate(-90)`).attr('text-anchor','middle').attr('dominant-baseline','central')
    .attr('font-size',p.ytSize).attr('font-weight','bold').attr('textLength',p.ytLen).attr('lengthAdjust','spacingAndGlyphs').text(yTitle);

  p.leg.forEach(([name,lx])=>{
    const s = STY[name];
    const lg = g.append('g');
    lg.append('line').attr('x1',lx).attr('x2',lx+24).attr('y1',p.legY).attr('y2',p.legY)
      .attr('stroke',s.line).attr('stroke-width',name==='WB'?3:2.5);
    lg.append('path').attr('transform',`translate(${lx+12},${p.legY})`)
      .attr('d',d3.symbol().type(s.sym).size(name==='WB'?65:55)())
      .attr('fill',s.fill).attr('stroke',s.stroke).attr('stroke-width',1);
    lg.append('text').attr('x',lx+25).attr('y',p.legY).attr('dominant-baseline','central')
      .attr('font-size',16).text(name);
  });
});
</script>
</body></html>
